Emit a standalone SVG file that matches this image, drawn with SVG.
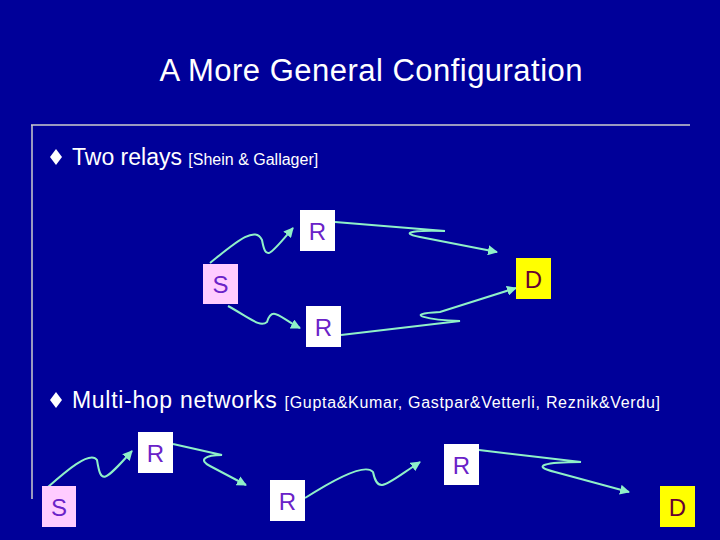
<svg xmlns="http://www.w3.org/2000/svg" width="720" height="540" viewBox="0 0 720 540">
<defs>
<style>
.t{font-family:"Liberation Sans",Arial,sans-serif;fill:#fff}
.n{font-family:"Liberation Sans",Arial,sans-serif;font-size:24px;fill:#6a22c8;text-anchor:middle}
.c{fill:none;stroke:#8ff0c8;stroke-width:2}
</style>
<marker id="a" viewBox="0 0 10 10" refX="9" refY="5" markerWidth="5" markerHeight="5" orient="auto"><path d="M0,0L10,5L0,10z" fill="#8ff0c8"/></marker>
</defs>
<rect width="720" height="540" fill="#000099"/>
<text class="t" x="371" y="81" font-size="31" text-anchor="middle" textLength="423">A More General Configuration</text>
<line x1="31" y1="125" x2="690" y2="125" stroke="#ccc" stroke-width="1.5"/>
<line x1="32" y1="125" x2="32" y2="499" stroke="#ccc" stroke-width="1.5"/>
<polygon points="56,149 62,157 56,165 50,157" fill="#fff"/>
<text class="t" x="72" y="165" font-size="23">Two relays <tspan font-size="16">[Shein &amp; Gallager]</tspan></text>
<polygon points="56,392 62,400 56,408 50,400" fill="#fff"/>
<text class="t" x="72" y="408" font-size="23" textLength="588">Multi-hop networks <tspan font-size="16">[Gupta&amp;Kumar, Gastpar&amp;Vetterli, Reznik&amp;Verdu]</tspan></text>
<g id="connectors">
<path class="c" marker-end="url(#a)" d="M210,263 C235,243 255,225 262,240 C266,262 270,255 293,228"/>
<path class="c" marker-end="url(#a)" d="M335,222 L445,231 C420,230 395,232 420,237 L497,252"/>
<path class="c" marker-end="url(#a)" d="M228,306 C250,318 260,328 267,322 C272,305 280,318 300,328"/>
<path class="c" marker-end="url(#a)" d="M341,335 L460,321 C430,320 400,314 440,312 L516,288"/>
<path class="c" marker-end="url(#a)" d="M48,487 C65,472 90,450 97,460 C101,485 104,482 132,451"/>
<path class="c" marker-end="url(#a)" d="M173,444 L222,455 C205,455 198,460 210,466 L246,485"/>
<path class="c" marker-end="url(#a)" d="M305,498 C330,482 365,462 373,472 C378,495 385,485 420,462"/>
<path class="c" marker-end="url(#a)" d="M479,450 L581,462 C545,462 530,466 555,472 L629,492"/>
</g>
<g id="S1"><rect x="203" y="264" width="35" height="40" fill="#ffccff"/><text class="n" x="220.5" y="293">S</text></g>
<g id="R1"><rect x="300" y="210" width="35" height="41" fill="#fff"/><text class="n" x="317.5" y="240">R</text></g>
<g id="R2"><rect x="306" y="306" width="35" height="41" fill="#fff"/><text class="n" x="323.5" y="336">R</text></g>
<g id="D1"><rect x="516" y="258" width="35" height="41" fill="#ffff00"/><text class="n" x="533.5" y="288" style="fill:#660033">D</text></g>
<g id="S2"><rect x="42" y="486" width="34" height="41" fill="#ffccff"/><text class="n" x="59" y="516">S</text></g>
<g id="R3"><rect x="138" y="432" width="35" height="41" fill="#fff"/><text class="n" x="155.5" y="462">R</text></g>
<g id="R4"><rect x="270" y="480" width="35" height="41" fill="#fff"/><text class="n" x="287.5" y="510">R</text></g>
<g id="R5"><rect x="444" y="444" width="35" height="41" fill="#fff"/><text class="n" x="461.5" y="474">R</text></g>
<g id="D2"><rect x="660" y="486" width="35" height="41" fill="#ffff00"/><text class="n" x="677.5" y="516" style="fill:#660033">D</text></g>
</svg>
